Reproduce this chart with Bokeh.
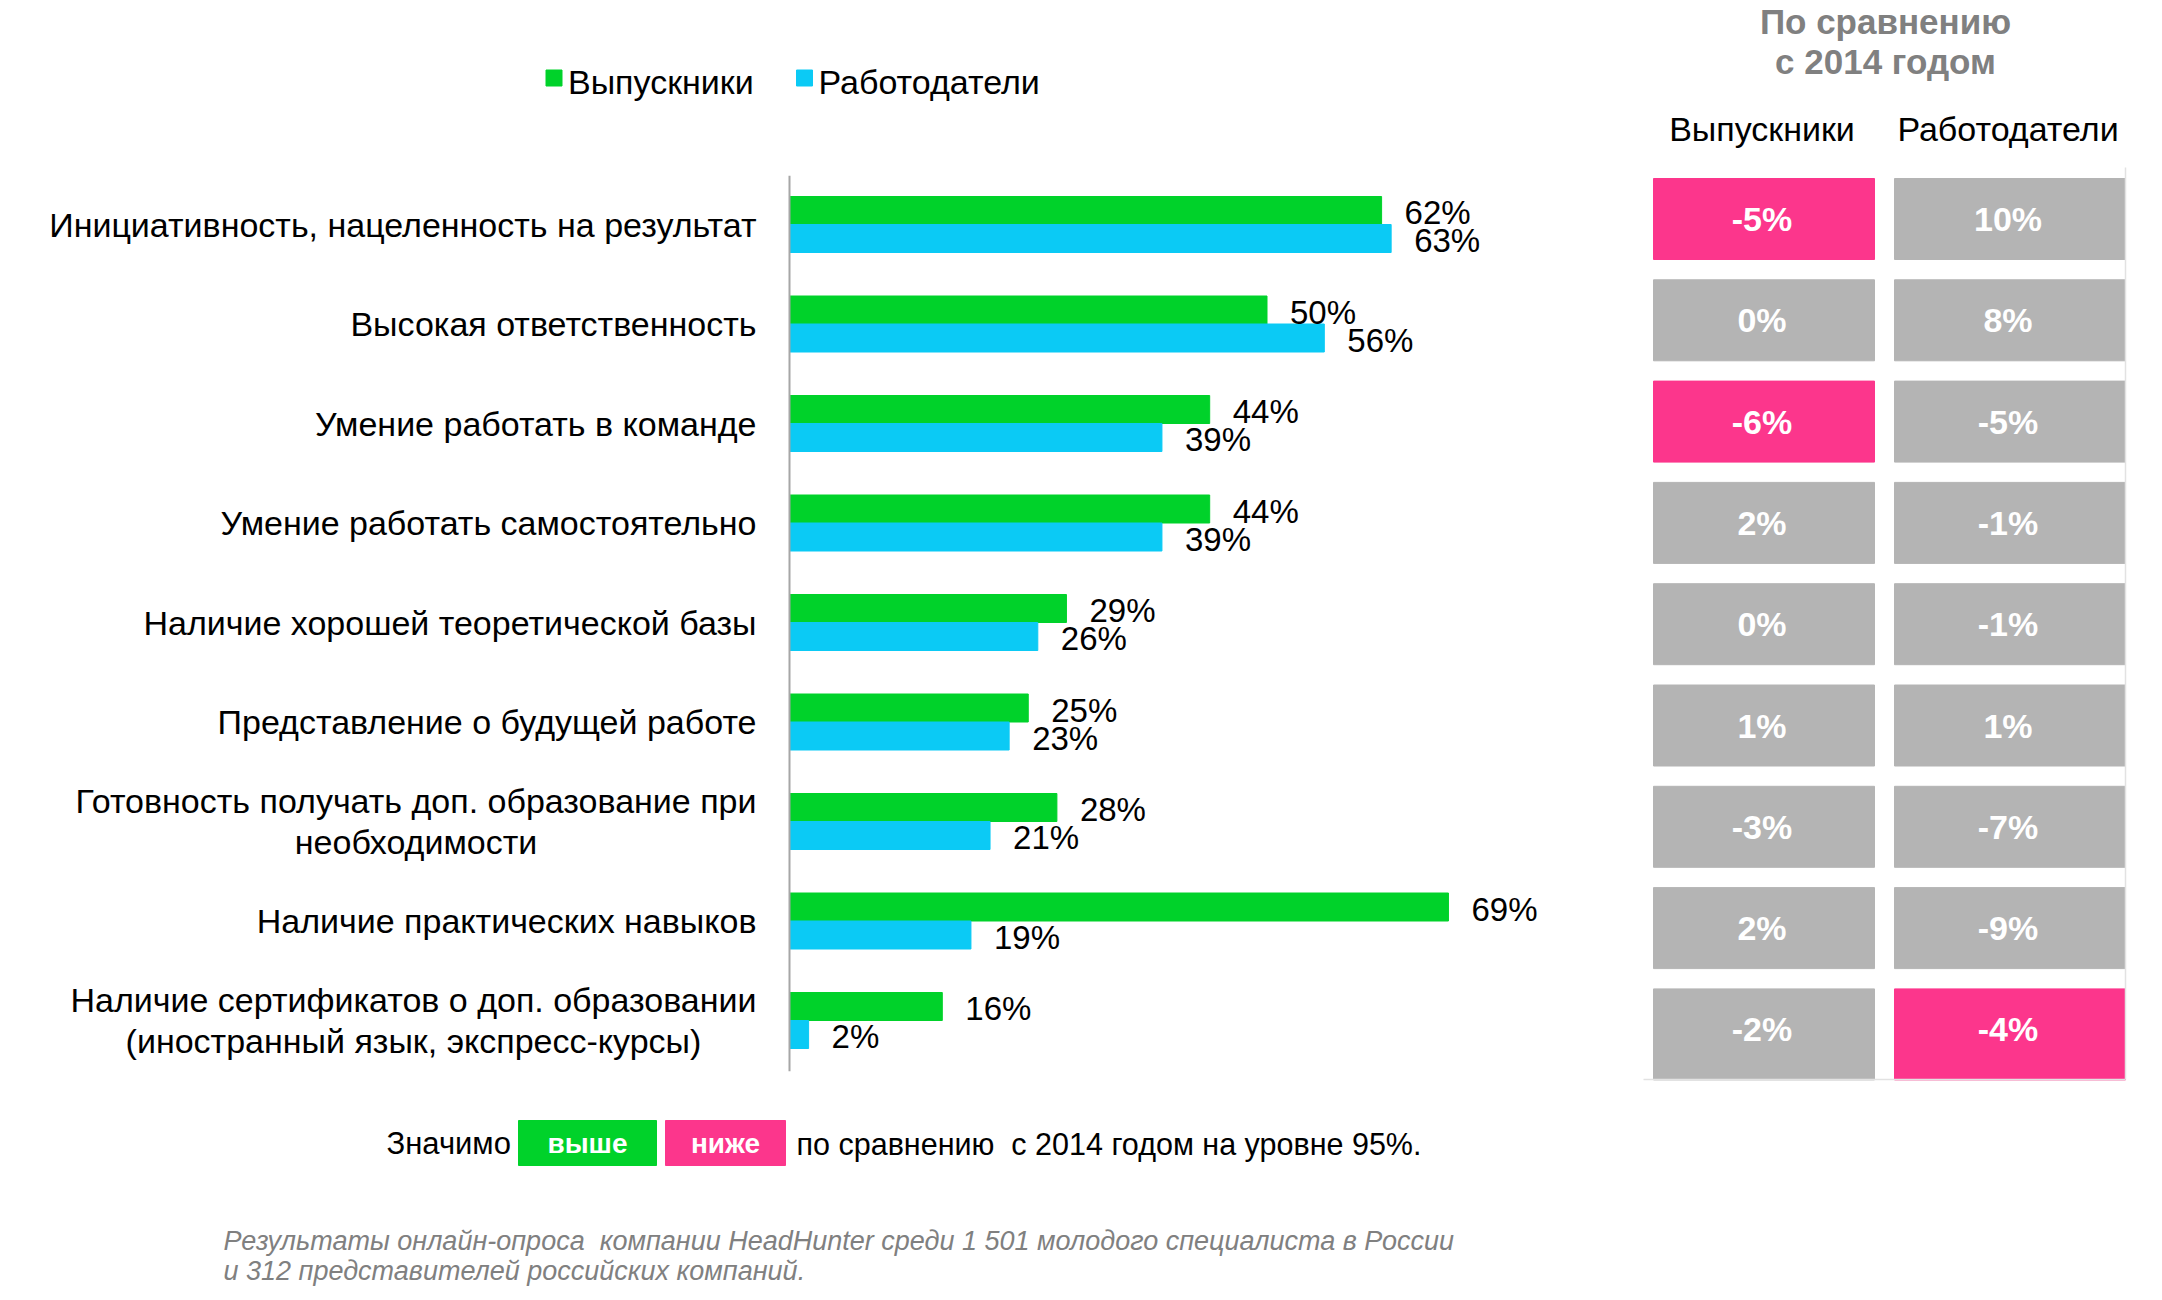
from bokeh.plotting import figure
from bokeh.models import Range1d, ColumnDataSource
from bokeh.core.properties import value
from bokeh.embed import file_html
from bokeh.resources import INLINE

# ---------------- data ----------------
categories = [
    "Инициативность, нацеленность на результат",
    "Высокая ответственность",
    "Умение работать в команде",
    "Умение работать самостоятельно",
    "Наличие хорошей теоретической базы",
    "Представление о будущей работе",
    "Готовность получать доп. образование при\nнеобходимости",
    "Наличие практических навыков",
    "Наличие сертификатов о доп. образовании\n(иностранный язык, экспресс-курсы)",
]
graduates = [62, 50, 44, 44, 29, 25, 28, 69, 16]
employers = [63, 56, 39, 39, 26, 23, 21, 19, 2]
change_graduates = [-5, 0, -6, 2, 0, 1, -3, 2, -2]
change_employers = [10, 8, -5, -1, -1, 1, -7, -9, -4]
signif_graduates = ["lower", "", "lower", "", "", "", "", "", ""]
signif_employers = ["", "", "", "", "", "", "", "", "lower"]
series_names = ["Выпускники", "Работодатели"]
compare_title = ["По сравнению", "с 2014 годом"]
note_parts = ["Значимо", "выше", "ниже", "по сравнению\u00a0 с 2014 годом на уровне 95%."]
source_lines = [
    "Результаты онлайн-опроса\u00a0 компании HeadHunter среди 1 501 молодого специалиста в России",
    "и 312 представителей российских компаний.",
]

# ---------------- style ----------------
GREEN = "#00D22A"
BLUE = "#0BCAF5"
PINK = "#FC368C"
CELL_GRAY = "#B4B4B4"
TITLE_GRAY = "#808080"
FONT = value("Liberation Sans")

W, H = 2146, 1296
AXIS_PX = 789        # pixel position of 0%
PX_PER_PCT = 9.55
ROW0, ROW_STEP = 224, 99.5
TROW0, TROW_STEP = 218.5, 101.3
BAR_H = 28

p = figure(width=W, height=H, x_range=Range1d(0, W), y_range=Range1d(H, 0),
           output_backend="svg", toolbar_location=None, min_border=0,
           x_axis_location=None, y_axis_location=None)
p.grid.visible = False
p.outline_line_color = None
p.background_fill_color = "white"

p.extra_x_ranges = {"pct": Range1d(-AXIS_PX / PX_PER_PCT, (W - AXIS_PX) / PX_PER_PCT)}
p.extra_y_ranges = {
    "row": Range1d((H - ROW0) / ROW_STEP, -ROW0 / ROW_STEP),
    "trow": Range1d((H - TROW0) / TROW_STEP, -TROW0 / TROW_STEP),
}

n = len(categories)
idx = list(range(n))
half = BAR_H / 2 / ROW_STEP
bar_h = BAR_H / ROW_STEP

src = ColumnDataSource(dict(
    yg=[i - half for i in idx], yb=[i + half for i in idx],
    g=graduates, e=employers,
    gl=[f"{v}%" for v in graduates], el=[f"{v}%" for v in employers],
))

# bars
p.hbar(y="yg", left=0, right="g", height=bar_h, source=src, color=GREEN,
       x_range_name="pct", y_range_name="row")
p.hbar(y="yb", left=0, right="e", height=bar_h, source=src, color=BLUE,
       x_range_name="pct", y_range_name="row")

# axis line
p.segment(x0=[0], x1=[0], y0=[-0.49], y1=[8.51], line_color="#A6A6A6", line_width=2,
          x_range_name="pct", y_range_name="row")

# value labels
for col, lab, dy in (("g", "gl", "yg"), ("e", "el", "yb")):
    p.text(x=col, y=dy, text=lab, source=src, x_offset=23, y_offset=2,
           text_font=FONT, text_font_size="33px", text_color="black",
           text_baseline="middle", text_align="left",
           x_range_name="pct", y_range_name="row")

# category labels
p.text(x=[756] * n, y=idx, text=categories, text_font=FONT, text_font_size="34px",
       text_color="black", text_align="center", anchor="center_right",
       text_line_height=1.1, y_range_name="row")

# legend
for xs, name, c in ((553.5, series_names[0], GREEN), (804, series_names[1], BLUE)):
    p.rect(x=[xs], y=[77.5], width=16, height=16, color=c)
    p.text(x=[xs + 14], y=[81], text=[name], text_font=FONT, text_font_size="34px",
           text_color="black", text_baseline="middle")

# right table
p.text(x=[1885, 1885], y=[21, 61], text=compare_title, text_font=FONT,
       text_font_size="35px", text_font_style="bold", text_color=TITLE_GRAY,
       text_align="center", text_baseline="middle")
COLS = [(1653, 1874), (1894, 2125)]
for (l, r), name in zip(COLS, series_names):
    p.text(x=[(l + r) / 2 - 2], y=[128], text=[name], text_font=FONT, text_font_size="34px",
           text_color="black", text_align="center", text_baseline="middle")

cell_half = 40.5 / TROW_STEP
for (l, r), vals, sig in zip(COLS, (change_graduates, change_employers),
                             (signif_graduates, signif_employers)):
    colors = [PINK if s == "lower" else (GREEN if s == "higher" else CELL_GRAY) for s in sig]
    bottoms = [i + cell_half + (10 / TROW_STEP if i == n - 1 else 0) for i in idx]
    p.quad(left=[l] * n, right=[r] * n, top=[i - cell_half for i in idx], bottom=bottoms,
           color=colors, y_range_name="trow")
    p.text(x=[(l + r) / 2 - 2] * n, y=idx, text=[f"{v}%" for v in vals], text_font=FONT,
           text_font_size="34px", text_font_style="bold", text_color="white",
           text_align="center", text_baseline="middle", y_range_name="trow")

p.segment(x0=[2125, 1643], x1=[2125, 2125], y0=[167, 1079], y1=[1079, 1079],
          line_color="#E2E2E2", line_width=1.5)

# significance note
p.text(x=[386], y=[1143], text=[note_parts[0]], text_font=FONT, text_font_size="31px",
       text_color="black", text_baseline="middle")
p.quad(left=[518, 665], right=[656, 785], top=[1120, 1120], bottom=[1165, 1165],
       color=[GREEN, PINK])
p.text(x=[587, 725], y=[1143, 1143], text=note_parts[1:3], text_font=FONT,
       text_font_size="28px", text_font_style="bold", text_color="white",
       text_align="center", text_baseline="middle")
p.text(x=[796], y=[1143], text=[note_parts[3]], text_font=FONT, text_font_size="30.5px",
       text_color="black", text_baseline="middle")

# source
p.text(x=[223, 223], y=[1240, 1270], text=source_lines, text_font=FONT,
       text_font_size="27px", text_font_style="italic", text_color=TITLE_GRAY,
       text_baseline="middle")

open("out.html", "w").write(file_html(p, INLINE))
